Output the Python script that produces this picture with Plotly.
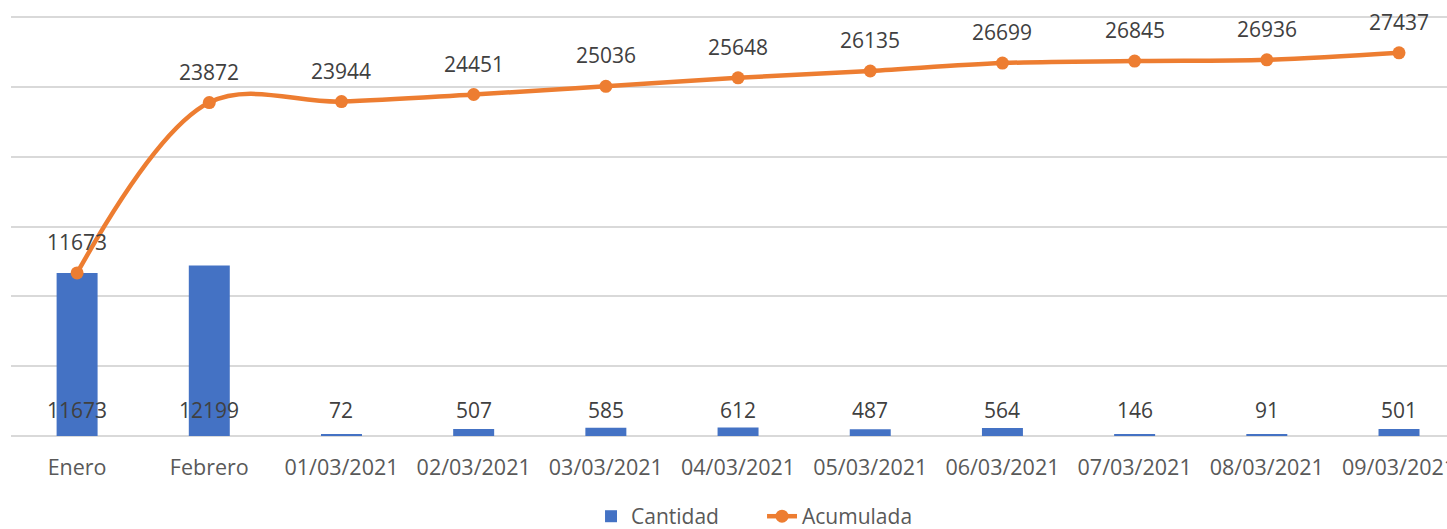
import plotly.graph_objects as go

categorias = ["Enero", "Febrero", "01/03/2021", "02/03/2021", "03/03/2021", "04/03/2021",
              "05/03/2021", "06/03/2021", "07/03/2021", "08/03/2021", "09/03/2021"]
cantidad = [11673, 12199, 72, 507, 585, 612, 487, 564, 146, 91, 501]
acumulada = [11673, 23872, 23944, 24451, 25036, 25648, 26135, 26699, 26845, 26936, 27437]

FONT = "Open Sans"
fig = go.Figure()
fig.add_trace(go.Bar(x=categorias, y=cantidad, name="Cantidad", width=0.31,
                     marker=dict(color="#4472C4", line=dict(width=0))))
fig.add_trace(go.Scatter(x=categorias, y=acumulada, name="Acumulada",
                         mode="lines+markers",
                         line=dict(color="#ED7D31", width=4.5, shape="spline", smoothing=1.0),
                         marker=dict(color="#ED7D31", size=13)))

annotations = []
for c, v in zip(categorias, acumulada):
    annotations.append(dict(x=c, y=v, text=str(v), showarrow=False, yshift=31,
                            font=dict(family=FONT, size=21, color="#404040")))
for c, v in zip(categorias, cantidad):
    annotations.append(dict(x=c, y=0, text=str(v), showarrow=False, yshift=26,
                            font=dict(family=FONT, size=21, color="#404040")))

fig.update_layout(
    width=1447, height=529,
    margin=dict(l=11, r=0, t=13, b=93, autoexpand=False),
    paper_bgcolor="white", plot_bgcolor="white",
    font=dict(family=FONT, size=21, color="#595959"),
    showlegend=True,
    legend=dict(orientation="h", x=0.523, xanchor="center", y=-0.142, yanchor="top",
                entrywidth=126, entrywidthmode="pixels",
                font=dict(family=FONT, size=21, color="#595959"), traceorder="normal"),
    annotations=annotations,
)
fig.update_xaxes(type="category", range=[-0.5, 10.363], showgrid=False, showline=False,
                 ticks="", ticklabelstandoff=16, automargin=False,
                 tickfont=dict(family=FONT, size=21.5, color="#595959"))
fig.update_yaxes(range=[0, 30000 * 423 / 419], dtick=5000, showticklabels=False, showgrid=True,
                 gridcolor="#D9D9D9", gridwidth=1.5, zeroline=True, zerolinecolor="#D9D9D9",
                 zerolinewidth=1.5, showline=False, automargin=False)

fig.write_html("out.html", config={"displayModeBar": False},
               post_script="document.body.style.margin='0';document.body.style.overflow='hidden';")
